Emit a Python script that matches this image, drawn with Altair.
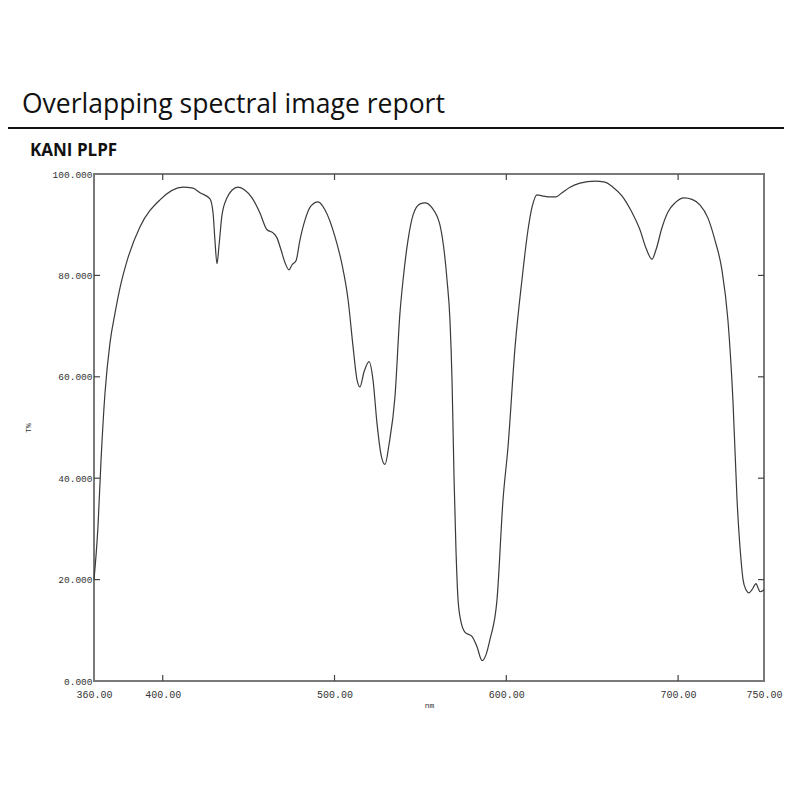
import altair as alt
import pandas as pd

# Spectral transmittance curve (nm, T%)
wavelength = [360.0, 362.3, 364.1, 366.4, 369.3, 372.2, 375.1, 379.8, 386.8, 398.4,
              411.8, 417.6, 421.7, 427.5, 429.3, 430.4, 431.6, 432.8, 434.5, 437.4,
              440.3, 443.8, 447.9, 452.0, 456.6, 460.7, 464.2, 466.5, 468.9, 471.2,
              473.5, 475.3, 477.6, 479.9, 482.8, 486.3, 490.4, 494.5, 500.3, 504.4,
              507.9, 510.8, 513.1, 514.8, 517.2, 520.1, 522.4, 524.7, 527.1, 529.4,
              531.7, 535.2, 538.1, 539.9, 542.8, 545.7, 549.8, 552.7, 556.8, 561.4,
              565.5, 567.2, 568.4, 569.6, 570.7, 571.9, 573.6, 576.0, 580.0, 582.9,
              585.9, 588.2, 590.5, 594.6, 598.1, 601.0, 605.1, 609.1, 612.6, 615.0,
              617.9, 620.8, 624.3, 628.9, 632.4, 637.1, 642.9, 651.6, 657.4, 662.1,
              667.3, 673.2, 677.8, 681.3, 684.8, 687.1, 690.6, 694.1, 698.2, 703.4,
              708.1, 712.7, 717.4, 721.4, 725.5, 729.0, 731.9, 734.3, 736.6, 737.8,
              739.5, 741.3, 743.0, 745.4, 746.5, 747.7, 750.0]
transmittance = [20.0, 30.4, 43.6, 56.8, 66.7, 72.5, 77.5, 83.5, 89.6, 94.9,
                 97.4, 97.2, 96.3, 95.1, 92.3, 86.9, 82.3, 86.0, 91.9, 95.3,
                 96.8, 97.4, 96.8, 95.3, 92.3, 89.0, 88.4, 87.4, 85.0, 82.5,
                 81.1, 82.1, 82.9, 87.0, 90.9, 93.7, 94.5, 92.9, 87.6, 82.1,
                 75.2, 65.9, 59.4, 58.0, 61.0, 63.0, 59.4, 50.9, 44.6, 42.7,
                 46.6, 56.1, 72.6, 79.1, 87.0, 91.9, 94.1, 94.3, 93.3, 89.9,
                 79.1, 71.2, 59.4, 39.7, 25.9, 16.1, 11.7, 9.6, 8.8, 6.8,
                 4.0, 5.2, 8.2, 16.1, 35.8, 46.2, 65.9, 79.1, 88.9, 93.5,
                 95.9, 95.7, 95.5, 95.5, 96.3, 97.4, 98.2, 98.6, 98.4, 97.4,
                 95.7, 92.4, 89.0, 85.4, 83.2, 85.0, 89.4, 92.5, 94.3, 95.3,
                 95.0, 93.9, 91.3, 87.0, 81.1, 71.2, 55.5, 35.8, 24.0, 20.0,
                 18.0, 17.4, 18.0, 19.2, 18.4, 17.6, 18.0]

x_labels = [360, 400, 500, 600, 700, 750]
y_labels = [0, 20, 40, 60, 80, 100]
x_inner_ticks = [400, 500, 600, 700]
y_inner_ticks = [20, 40, 60, 80]

W, H = 670, 507

df = pd.DataFrame({"nm": wavelength, "T": transmittance})
xt = pd.DataFrame({"v": x_inner_ticks})
yt = pd.DataFrame({"v": y_inner_ticks})
one = pd.DataFrame({"a": [0]})

xscale = alt.Scale(domain=[360, 750], nice=False, zero=False)
yscale = alt.Scale(domain=[0, 100], nice=False)

mono = "Liberation Mono"

line = alt.Chart(df).mark_line(color="#3a3a3a", strokeWidth=1.2, interpolate="monotone").encode(
    x=alt.X("nm:Q", scale=xscale,
            axis=alt.Axis(values=x_labels, format=".2f", ticks=False, domain=False, grid=False,
                          title="nm", labelFont=mono, labelFontSize=10, labelColor="#333",
                          labelPadding=8, titleFont=mono, titleFontSize=8,
                          titleFontWeight="normal", titleColor="#333", titlePadding=2,
                          labelFlush=False, labelOverlap=False)),
    y=alt.Y("T:Q", scale=yscale,
            axis=alt.Axis(values=y_labels, format=".3f", ticks=False, domain=False, grid=False,
                          title="T%", labelFont=mono, labelFontSize=9.5, labelColor="#333",
                          labelPadding=2, titleFont=mono, titleFontSize=8,
                          titleFontWeight="normal", titleColor="#333", titlePadding=20,
                          labelFlush=False, labelOverlap=False)),
)

tick_color = "#444"
bottom_ticks = alt.Chart(xt).mark_rule(color=tick_color, strokeWidth=1.2).encode(
    x=alt.X("v:Q", scale=xscale), y=alt.value(H), y2=alt.value(H - 6))
top_ticks = alt.Chart(xt).mark_rule(color=tick_color, strokeWidth=1.2).encode(
    x=alt.X("v:Q", scale=xscale), y=alt.value(0), y2=alt.value(6))
left_ticks = alt.Chart(yt).mark_rule(color=tick_color, strokeWidth=1.2).encode(
    y=alt.Y("v:Q", scale=yscale), x=alt.value(0), x2=alt.value(6))
right_ticks = alt.Chart(yt).mark_rule(color=tick_color, strokeWidth=1.2).encode(
    y=alt.Y("v:Q", scale=yscale), x=alt.value(W), x2=alt.value(W - 6))

title = alt.Chart(one).mark_text(text="Overlapping spectral image report", font="Open Sans",
                                 fontSize=26.5, align="left", baseline="alphabetic",
                                 color="#111").encode(x=alt.value(-72), y=alt.value(-61))
sep = alt.Chart(one).mark_rule(color="#111", strokeWidth=2).encode(
    x=alt.value(-86), x2=alt.value(W + 20), y=alt.value(-46))
subtitle = alt.Chart(one).mark_text(text="KANI PLPF", font="Open Sans", fontSize=17,
                                    fontWeight="bold", align="left", baseline="alphabetic",
                                    color="#111").encode(x=alt.value(-64), y=alt.value(-18))

chart = alt.layer(line, bottom_ticks, top_ticks, left_ticks, right_ticks, title, sep, subtitle).properties(
    width=W, height=H, autosize="none",
    padding={"left": 86, "top": 166, "right": 20, "bottom": 60},
    background="white",
).configure_view(stroke="#7a7a7a", strokeWidth=2)

chart.save("out.html", embed_options={"renderer": "svg", "actions": False})
